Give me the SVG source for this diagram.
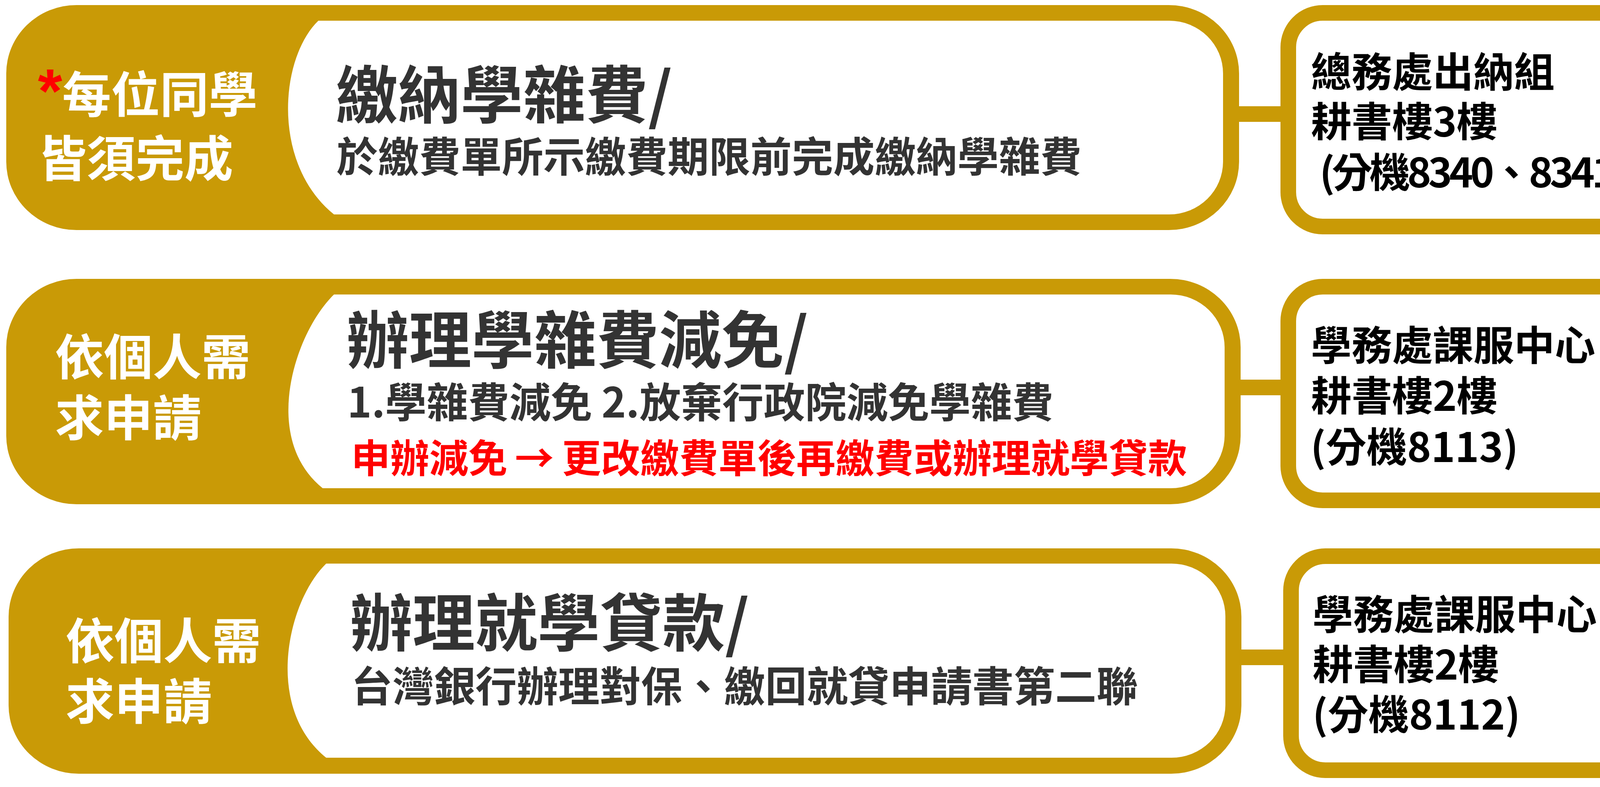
<svg xmlns="http://www.w3.org/2000/svg" width="4286" height="2015" viewBox="0 0 4286 2015">
<style>
.gold{fill:#C99A06}
.inner{fill:#fff}
.box{fill:#fff;stroke:#C99A06;stroke-width:40}
.t{font-family:'Noto Sans CJK TC','Noto Sans CJK SC',sans-serif;font-weight:700}
.lbl{fill:#fff;font-size:125px}
.star{fill:#f00;font-size:160px;font-family:'Liberation Sans',sans-serif;font-weight:700}
.title{fill:#333;font-size:160px}
.sub{fill:#333;font-size:106px}
.red{fill:#f00;font-size:100px}
.info{fill:#000;font-size:104px}
</style>
<rect width="4286" height="2015" fill="#fff"/>
<g id="connectors">
<rect class="gold" x="3150" y="272" width="150" height="40"/>
<rect class="gold" x="3150" y="972" width="150" height="40"/>
<rect class="gold" x="3155" y="1663" width="150" height="40"/>
</g>
<g id="step1">
<rect class="gold" x="16" y="13" width="3156" height="576" rx="180" ry="175"/>
<path class="inner" d="M815,53 L2993,53 A138,135 0 0 1 3131,188 L3131,414 A138,135 0 0 1 2993,549 L855,549 C695,420 715,150 815,53 Z"/>
<text class="t lbl" x="97" y="288"><tspan class="star">*</tspan>每位同學</text>
<text class="t lbl" x="97" y="452">皆須完成</text>
<text class="t title" x="859" y="302">繳納學雜費/</text>
<text class="t sub" x="861" y="440">於繳費單所示繳費期限前完成繳納學雜費</text>
</g>
<g id="office1">
<rect class="box" x="3298" y="33" width="962" height="547" rx="88"/>
<text class="t info" x="3356" y="223">總務處出納組</text>
<text class="t info" x="3356" y="350">耕書樓3樓</text>
<text class="t info" x="3378" y="480" textLength="790">(分機8340、8341)</text>
</g>
<g id="step2">
<rect class="gold" x="16" y="714" width="3160" height="577" rx="180" ry="175"/>
<path class="inner" d="M855,754 L2997,754 A138,135 0 0 1 3135,889 L3135,1115 A138,135 0 0 1 2997,1250 L826,1250 C666,1121 755,851 855,754 Z"/>
<text class="t lbl" x="141" y="960">依個人需</text>
<text class="t lbl" x="141" y="1116">求申請</text>
<text class="t title" x="887" y="930">辦理學雜費減免/</text>
<text class="t sub" x="889" y="1069">1.學雜費減免 2.放棄行政院減免學雜費</text>
<text class="t red" y="1210"><tspan x="899">申辦減免 </tspan><tspan x="1318">→</tspan><tspan x="1416"> 更改繳費單後再繳費或辦理就學貸款</tspan></text>
</g>
<g id="office2">
<rect class="box" x="3298" y="734" width="964" height="547" rx="88"/>
<text class="t info" x="3356" y="923">學務處課服中心</text>
<text class="t info" x="3356" y="1052">耕書樓2樓</text>
<text class="t info" x="3355" y="1183">(分機8113)</text>
</g>
<g id="step3">
<rect class="gold" x="22" y="1404" width="3156" height="577" rx="180" ry="175"/>
<path class="inner" d="M835,1443 L2999,1443 A138,135 0 0 1 3137,1578 L3137,1805 A138,135 0 0 1 2999,1940 L835,1940 C675,1811 735,1540 835,1443 Z"/>
<text class="t lbl" x="168" y="1687">依個人需</text>
<text class="t lbl" x="168" y="1842">求申請</text>
<text class="t title" x="896" y="1654">辦理就學貸款/</text>
<text class="t sub" x="899" y="1796">台灣銀行辦理對保、繳回就貸申請書第二聯</text>
</g>
<g id="office3">
<rect class="box" x="3305" y="1424" width="961" height="548" rx="88"/>
<text class="t info" x="3360" y="1612">學務處課服中心</text>
<text class="t info" x="3360" y="1740">耕書樓2樓</text>
<text class="t info" x="3360" y="1868">(分機8112)</text>
</g>
</svg>
